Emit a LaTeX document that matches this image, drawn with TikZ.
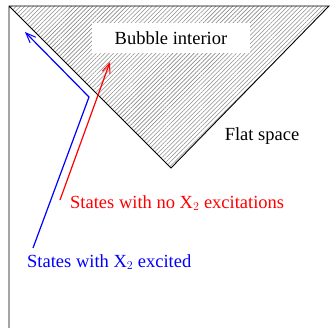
\documentclass[tikz,border=0pt]{standalone}
\usepackage{fontspec}
\setmainfont{Liberation Serif}
\usetikzlibrary{arrows.meta,patterns.meta}
\tikzset{edge/.style={draw=black,line width=0.9pt},
  hatch/.style={pattern={Lines[angle=45,distance=3pt,line width=0.6pt]},pattern color=gray!90},
  ray/.style={line width=1.2pt,-{Straight Barb[length=10pt,width=8pt,line width=1pt]}},
  label/.style={font=\fontsize{18.5}{22}\selectfont,inner sep=1pt}}
\begin{document}
\begin{tikzpicture}[x=1pt,y=-1pt]
\useasboundingbox (0,0) rectangle (330,328);
% corners of the diagram
\coordinate (tl) at (9,6);
\coordinate (tr) at (329,6);
\coordinate (tip) at (171,168);
\coordinate (bl) at (9,328);
% hatched interior
\fill[hatch] (tl)--(tr)--(tip)--cycle;
\node[fill=white,minimum width=158pt,minimum height=30pt] (interior) at (171,38) {};
\node[label] at (interior) {Bubble interior};
\draw[edge,line join=miter] (bl)--(tl)--(tr)--(tip)--(tl);
\node[label] (flat) at (262,136) {Flat space};
% the two histories
\coordinate (b0) at (33,248);
\coordinate (b1) at (89,97);
\coordinate (b2) at (25,32);
\coordinate (r0) at (60,200);
\coordinate (r1) at (110,62);
\draw[ray,blue] (b0)--(b1)--(b2);
\draw[ray,red] (r0)--(r1);
\node[label,red,anchor=west] (nolabel) at (69,203) {States with no X$_2$ excitations};
\node[label,blue,anchor=west] (xlabel) at (26,262) {States with X$_2$ excited};
\end{tikzpicture}
\end{document}
